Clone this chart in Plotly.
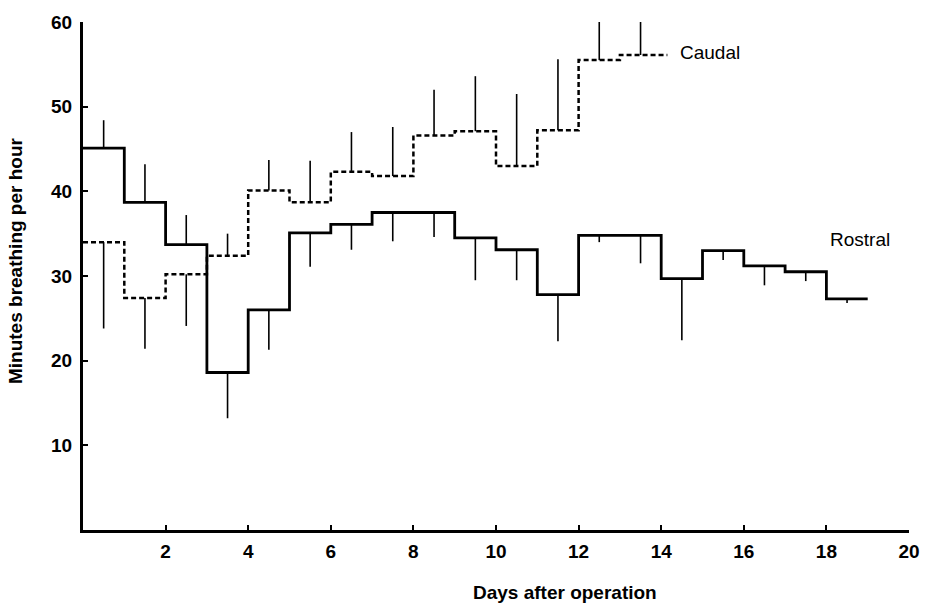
import plotly.graph_objects as go

# ---- data ----
# Rostral: daily means (day intervals 0-1 ... 18-19) and error-bar end values
rostral_days = list(range(0, 20))              # step edges
rostral_mean = [45.1, 38.7, 33.7, 18.6, 26.0, 35.1, 36.1, 37.5, 37.5, 34.5,
                33.1, 27.8, 34.8, 34.8, 29.7, 33.0, 31.2, 30.5, 27.3]
rostral_err_end = [48.4, 43.2, 37.2, 13.2, 21.3, 31.1, 33.1, 34.1, 34.6, 29.5,
                   29.5, 22.3, 34.0, 31.5, 22.4, 31.9, 28.9, 29.4, 26.8]

# Caudal: daily means (day intervals 0-1 ... 13-14) and error-bar end values
caudal_days = list(range(0, 15))
caudal_mean = [34.0, 27.4, 30.2, 32.4, 40.1, 38.7, 42.3, 41.8, 46.6, 47.1,
               43.0, 47.2, 55.5, 56.1]
caudal_err_end = [23.8, 21.4, 24.1, 35.0, 43.7, 43.6, 47.0, 47.6, 52.0, 53.6,
                  51.5, 55.6, 60.0, 60.0]

x_ticks = [2, 4, 6, 8, 10, 12, 14, 16, 18, 20]
y_ticks = [10, 20, 30, 40, 50, 60]

FONT = "Liberation Sans"


def err_arrays(means, ends):
    up = [max(e - m, 0) for m, e in zip(means, ends)]
    down = [max(m - e, 0) for m, e in zip(means, ends)]
    return up, down


fig = go.Figure()

# step lines
fig.add_trace(go.Scatter(
    x=rostral_days, y=rostral_mean + [rostral_mean[-1]],
    mode="lines", line=dict(shape="hv", color="black", width=2.8),
    hoverinfo="skip", showlegend=False))
fig.add_trace(go.Scatter(
    x=caudal_days + [caudal_days[-1] + 0.15],
    y=caudal_mean + [caudal_mean[-1], caudal_mean[-1]],
    mode="lines", line=dict(shape="hv", color="black", width=2.5, dash="5px,3px"),
    hoverinfo="skip", showlegend=False))

# error bars (one-sided, no caps) at interval centres
for days, means, ends in [(rostral_days, rostral_mean, rostral_err_end),
                          (caudal_days, caudal_mean, caudal_err_end)]:
    up, down = err_arrays(means, ends)
    centres = [d + 0.5 for d in days[:len(means)]]
    fig.add_trace(go.Scatter(
        x=centres, y=means, mode="markers",
        marker=dict(size=1, color="rgba(0,0,0,0)"),
        error_y=dict(type="data", symmetric=False, array=up, arrayminus=down,
                     width=0, thickness=1.6, color="black"),
        hoverinfo="skip", showlegend=False))

fig.update_layout(
    width=932, height=610,
    margin=dict(l=83, r=17, t=17, b=80),
    paper_bgcolor="white", plot_bgcolor="white",
    font=dict(family=FONT, color="black"),
    xaxis=dict(range=[0, 20], tickvals=x_ticks, ticktext=[str(v) for v in x_ticks],
               showline=True, linewidth=3, linecolor="black",
               ticks="inside", ticklen=5, tickwidth=2, tickcolor="black",
               showgrid=False, zeroline=False, ticklabelstandoff=2,
               tickfont=dict(family=FONT, size=19, weight="bold")),
    yaxis=dict(range=[0, 60], tickvals=y_ticks, ticktext=[str(v) for v in y_ticks],
               showline=True, linewidth=3, linecolor="black",
               ticks="inside", ticklen=5, tickwidth=2, tickcolor="black",
               showgrid=False, zeroline=False, ticklabelstandoff=4,
               tickfont=dict(family=FONT, size=19, weight="bold")),
    annotations=[
        dict(text="Days after operation", xref="paper", yref="paper",
             x=0.584, y=-0.124, xanchor="center", yanchor="middle",
             showarrow=False, font=dict(family=FONT, size=19, weight="bold")),
        dict(text="Minutes breathing per hour", xref="paper", yref="paper",
             x=-0.082, y=0.530, xanchor="center", yanchor="middle", textangle=-90,
             showarrow=False, font=dict(family=FONT, size=19, weight="bold")),
        dict(text="Caudal", x=14.4, y=56.4, xanchor="left", yanchor="middle",
             showarrow=False, font=dict(family=FONT, size=19)),
        dict(text="Rostral", x=18.05, y=34.3, xanchor="left", yanchor="middle",
             showarrow=False, font=dict(family=FONT, size=19)),
    ],
)

fig.write_html("out.html")
